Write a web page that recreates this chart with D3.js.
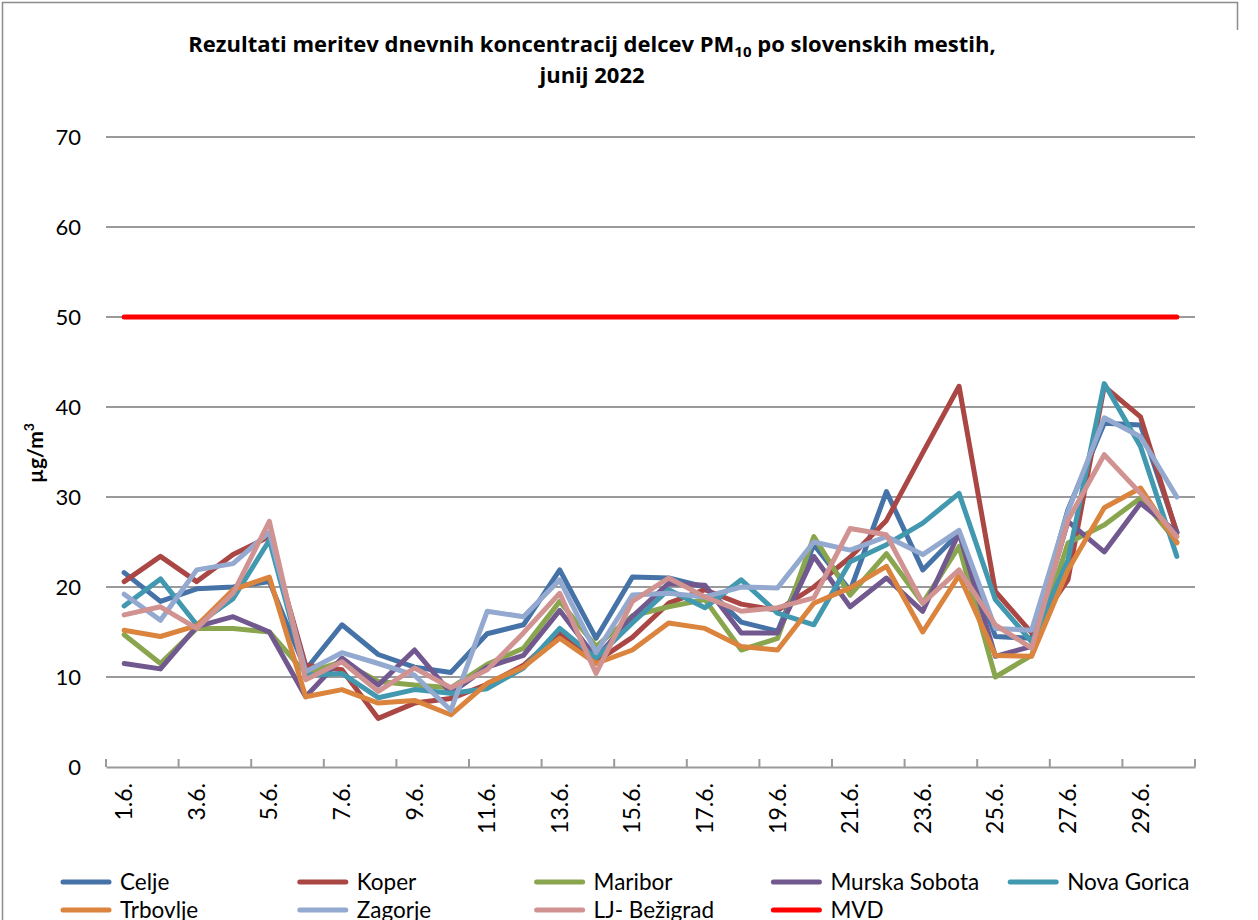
<!DOCTYPE html>
<html>
<head>
<meta charset="utf-8">
<script src="https://cdn.jsdelivr.net/npm/d3@7"></script>
<style>
  body { margin: 0; background: #fff; }
  svg { display: block; font-family: Lato, "Open Sans", sans-serif; }
</style>
</head>
<body>
<svg width="1258" height="920"></svg>
<script>
// dnevi v juniju 2022
let dnevi = ["1.6.","2.6.","3.6.","4.6.","5.6.","6.6.","7.6.","8.6.","9.6.","10.6.",
  "11.6.","12.6.","13.6.","14.6.","15.6.","16.6.","17.6.","18.6.","19.6.","20.6.",
  "21.6.","22.6.","23.6.","24.6.","25.6.","26.6.","27.6.","28.6.","29.6.","30.6."];

let celje = [21.6, 18.4, 19.8, 20.0, 20.6, 10.8, 15.8, 12.5, 11.1, 10.5, 14.8, 15.8, 21.9, 14.3, 21.1,
  21.0, 20.0, 16.1, 15.1, 24.7, 19.6, 30.6, 21.9, 26.0, 14.5, 14.3, 28.6, 38.2, 38.0, 26.1];
let koper = [20.6, 23.4, 20.6, 23.6, 25.6, 11.3, 10.8, 5.4, 7.1, 7.6, 9.2, 11.3, 14.9, 11.7, 14.4,
  18.2, 19.7, 18.1, 17.4, 20.0, 23.3, 27.4, 34.9, 42.3, 19.5, 14.9, 20.8, 42.3, 38.9, 26.0];
let maribor = [14.7, 11.5, 15.4, 15.4, 15.0, 10.4, 11.7, 9.5, 9.1, 8.8, 11.4, 13.2, 18.4, 13.4, 16.8,
  17.8, 18.6, 13.0, 14.3, 25.6, 19.1, 23.7, 18.2, 24.5, 10.0, 12.4, 24.9, 26.9, 29.9, 25.0];
let murskaSobota = [11.5, 10.9, 15.6, 16.7, 15.0, 7.8, 12.1, 9.1, 13.0, 8.2, 11.1, 12.4, 17.4, 12.1, 16.7,
  20.4, 20.2, 14.9, 14.9, 23.4, 17.8, 21.0, 17.3, 26.0, 12.3, 13.4, 27.3, 23.9, 29.3, 26.1];
let novaGorica = [17.9, 20.9, 15.8, 18.7, 25.2, 10.2, 10.4, 7.7, 8.6, 8.2, 8.7, 11.0, 15.4, 12.1, 16.0,
  19.7, 17.7, 20.8, 17.1, 15.8, 22.8, 24.7, 27.1, 30.4, 18.6, 13.9, 23.0, 42.6, 35.6, 23.4];
let trbovlje = [15.2, 14.5, 15.7, 19.7, 21.1, 7.8, 8.6, 7.1, 7.4, 5.8, 9.3, 11.1, 14.3, 11.5, 13.0,
  16.0, 15.4, 13.4, 13.0, 18.2, 19.9, 22.3, 15.0, 21.3, 12.4, 12.3, 21.9, 28.8, 31.0, 24.9];
let zagorje = [19.2, 16.3, 21.9, 22.6, 26.1, 10.6, 12.7, 11.5, 10.2, 6.3, 17.3, 16.7, 20.8, 12.7, 19.1,
  19.3, 18.9, 20.0, 19.9, 25.0, 24.1, 25.6, 23.6, 26.3, 15.4, 15.2, 28.4, 38.8, 36.7, 30.0];
let ljBezigrad = [16.9, 17.8, 15.4, 19.3, 27.3, 9.7, 11.7, 8.4, 11.0, 8.8, 10.8, 14.9, 19.3, 10.4, 18.4,
  21.0, 18.9, 17.3, 17.7, 18.8, 26.5, 25.8, 18.2, 21.9, 15.8, 13.2, 27.4, 34.7, 30.4, 25.6];
// mejna dnevna vrednost
let mvd = [50, 50, 50, 50, 50, 50, 50, 50, 50, 50, 50, 50, 50, 50, 50,
  50, 50, 50, 50, 50, 50, 50, 50, 50, 50, 50, 50, 50, 50, 50];

let imena = ["Celje", "Koper", "Maribor", "Murska Sobota", "Nova Gorica", "Trbovlje", "Zagorje", "LJ- Bežigrad", "MVD"];
let vrednosti = [celje, koper, maribor, murskaSobota, novaGorica, trbovlje, zagorje, ljBezigrad, mvd];
let barve = ["#4572A7", "#AA4643", "#89A54E", "#71588F", "#4198AF", "#DB843D", "#93A9CF", "#D19392", "#FF0000"];
let yTicks = [0, 10, 20, 30, 40, 50, 60, 70];

let serije = imena.map((ime, i) => ({ ime: ime, barva: barve[i], v: vrednosti[i] }));

let $svg = d3.select("svg");

let plot = { left: 106, right: 1195, top: 137, bottom: 767 };

let x = d3.scaleBand()
  .domain(dnevi)
  .range([plot.left, plot.right]);

let y = d3.scaleLinear()
  .domain([0, 70])
  .range([plot.bottom, plot.top]);

// okvir grafa
$svg.append("path")
  .attr("d", "M2.5,922 L2.5,2.5 L1237.5,2.5 L1237.5,30")
  .attr("fill", "none")
  .attr("stroke", "#8c8c8c")
  .attr("stroke-width", 1.5);

// mreza
$svg.append("g")
  .selectAll("line")
  .data(yTicks.filter(d => d > 0))
  .join("line")
  .attr("x1", plot.left)
  .attr("x2", plot.right)
  .attr("y1", d => y(d))
  .attr("y2", d => y(d))
  .attr("stroke", "#9a9a9a")
  .attr("stroke-width", 2);

// y oznake
$svg.append("g")
  .selectAll("text")
  .data(yTicks)
  .join("text")
  .attr("x", 81)
  .attr("y", d => y(d))
  .attr("dy", "0.35em")
  .attr("text-anchor", "end")
  .attr("font-size", 22)
  .attr("fill", "#000")
  .text(d => d);

// x os
let xAxis = d3.axisBottom(x).tickSize(0).tickFormat("");
let $xos = $svg.append("g")
  .attr("transform", `translate(0,${plot.bottom})`)
  .call(xAxis);
$xos.select(".domain").attr("stroke", "#9a9a9a").attr("stroke-width", 2);

let meje = d3.range(0, dnevi.length + 1, 2).map(i => plot.left + i * x.step());
$svg.append("g")
  .selectAll("line")
  .data(meje)
  .join("line")
  .attr("x1", d => d)
  .attr("x2", d => d)
  .attr("y1", plot.bottom - 8)
  .attr("y2", plot.bottom)
  .attr("stroke", "#9a9a9a")
  .attr("stroke-width", 2);

$svg.append("g")
  .selectAll("text")
  .data(dnevi.filter((d, i) => i % 2 == 0))
  .join("text")
  .attr("transform", d => `translate(${x(d) + x.bandwidth() / 2},${plot.bottom + 16}) rotate(-90)`)
  .attr("dy", "0.35em")
  .attr("text-anchor", "end")
  .attr("font-size", 23)
  .text(d => d);

// crte
let crta = d3.line()
  .x((d, i) => x(dnevi[i]) + x.bandwidth() / 2)
  .y(d => y(d));

$svg.append("g")
  .selectAll("path")
  .data(serije)
  .join("path")
  .attr("d", d => crta(d.v))
  .attr("fill", "none")
  .attr("stroke", d => d.barva)
  .attr("stroke-width", 5)
  .attr("stroke-linejoin", "round")
  .attr("stroke-linecap", "round");

// naslov
let $naslov = $svg.append("text")
  .attr("x", 592)
  .attr("y", 52)
  .attr("text-anchor", "middle")
  .attr("font-family", "'Open Sans', sans-serif")
  .attr("font-size", 22)
  .attr("font-weight", "bold");
$naslov.append("tspan").text("Rezultati meritev dnevnih koncentracij delcev PM");
$naslov.append("tspan").attr("font-size", 15).attr("dy", 5).text("10");
$naslov.append("tspan").attr("dy", -5).text(" po slovenskih mestih,");

$svg.append("text")
  .attr("x", 592)
  .attr("y", 83)
  .attr("text-anchor", "middle")
  .attr("font-family", "'Open Sans', sans-serif")
  .attr("font-size", 22)
  .attr("font-weight", "bold")
  .text("junij 2022");

// naslov y osi
let $yNaslov = $svg.append("text")
  .attr("transform", "translate(43,453) rotate(-90)")
  .attr("text-anchor", "middle")
  .attr("font-size", 21)
  .attr("font-weight", "bold");
$yNaslov.append("tspan").text("µg/m");
$yNaslov.append("tspan").attr("font-size", 14).attr("dy", -9).text("3");

// legenda
let $legenda = $svg.append("g")
  .selectAll("g")
  .data(serije)
  .join("g")
  .attr("transform", (d, i) => `translate(${63 + (i % 5) * 236.8},${882 + Math.floor(i / 5) * 28})`);

$legenda.append("line")
  .attr("x1", 0)
  .attr("x2", 46)
  .attr("stroke", d => d.barva)
  .attr("stroke-width", 5)
  .attr("stroke-linecap", "round");

$legenda.append("text")
  .attr("x", 57)
  .attr("dy", "0.35em")
  .attr("font-size", 22.5)
  .text(d => d.ime);
</script>
</body>
</html>
